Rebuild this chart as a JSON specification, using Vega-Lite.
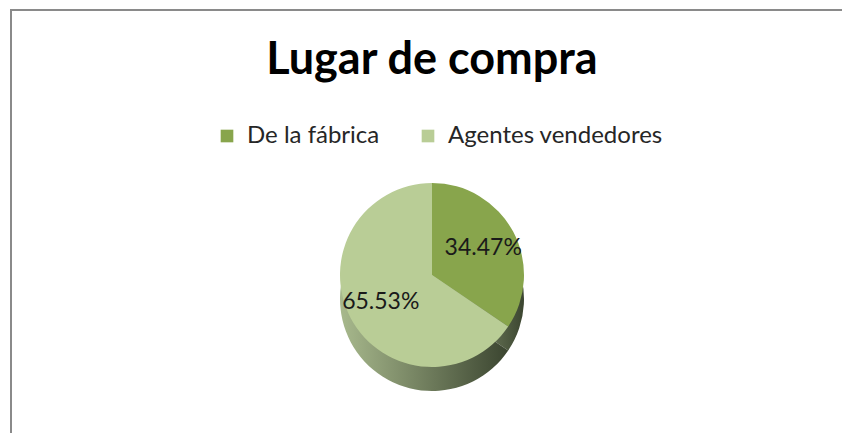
{
  "$schema": "https://vega.github.io/schema/vega-lite/v6.json",
  "width": 842,
  "height": 530,
  "autosize": {"type": "none"},
  "padding": {"left": 11, "top": 10, "right": 0, "bottom": 0},
  "background": "white",
  "config": {
    "view": {"stroke": null},
    "font": "Lato"
  },
  "title": {
    "text": "Lugar de compra",
    "font": "Lato",
    "fontSize": 45,
    "fontWeight": "bold",
    "color": "#000000",
    "anchor": "middle",
    "baseline": "alphabetic",
    "offset": 0,
    "dy": 110
  },
  "data": {
    "values": [
      {"lugar": "De la fábrica", "pct": 34.47, "label": "34.47%"},
      {"lugar": "Agentes vendedores", "pct": 65.53, "label": "65.53%"}
    ]
  },
  "layer": [
    {
      "mark": {"type": "rect", "fill": null, "stroke": "#8a8a8a", "strokeWidth": 2},
      "encoding": {}
    },
    {
      "mark": {
        "type": "arc",
        "outerRadius": 92,
        "yOffset": 24,
        "stroke": null,
        "fill": {
          "gradient": "linear",
          "x1": 0, "y1": 0, "x2": 1, "y2": 0,
          "stops": [
            {"offset": 0, "color": "#a8b98d"},
            {"offset": 1, "color": "#3b4530"}
          ]
        }
      },
      "encoding": {
        "theta": {"field": "pct", "type": "quantitative", "stack": true},
        "order": {"field": "pct", "type": "quantitative", "sort": "ascending"}
      }
    },
    {
      "mark": {"type": "arc", "outerRadius": 92, "stroke": null},
      "encoding": {
        "theta": {"field": "pct", "type": "quantitative", "stack": true},
        "order": {"field": "pct", "type": "quantitative", "sort": "ascending"},
        "color": {
          "field": "lugar",
          "type": "nominal",
          "sort": ["De la fábrica", "Agentes vendedores"],
          "scale": {
            "domain": ["De la fábrica", "Agentes vendedores"],
            "range": ["#88a54c", "#b9cd96"]
          },
          "legend": {
            "title": null,
            "orient": "none",
            "direction": "horizontal",
            "legendX": 204,
            "legendY": 114,
            "symbolType": "square",
            "symbolSize": 160,
            "symbolStrokeWidth": 0,
            "labelFont": "Lato",
            "labelFontSize": 24,
            "labelColor": "#262626",
            "labelOffset": 8,
            "labelLimit": 400,
            "columnPadding": 36
          }
        }
      }
    },
    {
      "mark": {"type": "text", "radius": 58, "font": "Lato", "fontSize": 23, "color": "#1a1a1a"},
      "encoding": {
        "theta": {"field": "pct", "type": "quantitative", "stack": true},
        "order": {"field": "pct", "type": "quantitative", "sort": "ascending"},
        "text": {"field": "label", "type": "nominal"}
      }
    }
  ]
}
